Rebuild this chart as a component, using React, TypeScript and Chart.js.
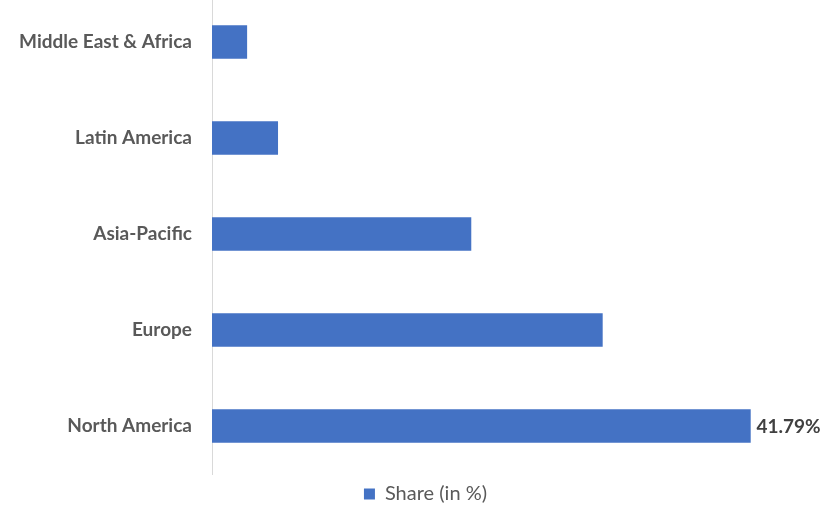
import { useEffect, useRef } from "react";
import { Chart, registerables } from "chart.js";
Chart.register(...registerables);

const categories = ["Middle East & Africa", "Latin America", "Asia-Pacific", "Europe", "North America"];
const shareValues = [2.7, 5.1, 20.1, 30.3, 41.79];
const valueLabels = ["", "", "", "", "41.79%"];
const seriesName = "Share (in %)";

const FONT = "Lato, 'Open Sans', sans-serif";

const valueLabelPlugin = {
  id: "valueLabels",
  afterDatasetsDraw(chart: any) {
    const ctx = chart.ctx;
    const meta = chart.getDatasetMeta(0);
    ctx.save();
    ctx.font = `bold 19px ${FONT}`;
    ctx.fillStyle = "#404040";
    ctx.textAlign = "left";
    ctx.textBaseline = "middle";
    meta.data.forEach((bar: any, i: number) => {
      const t = valueLabels[i];
      if (t) ctx.fillText(t, bar.x + 6, bar.y + 1);
    });
    ctx.restore();
  },
};

export default function App() {
  const ref = useRef<HTMLCanvasElement | null>(null);
  useEffect(() => {
    if (!ref.current) return;
    const chart = new Chart(ref.current, {
      type: "bar",
      data: {
        labels: categories,
        datasets: [
          {
            label: seriesName,
            data: shareValues,
            backgroundColor: "#4472C4",
            borderWidth: 0,
            barThickness: 33,
          },
        ],
      },
      options: {
        indexAxis: "y",
        animation: false,
        responsive: true,
        maintainAspectRatio: false,
        layout: { padding: { left: 0, right: 0, top: 0, bottom: 0 } },
        scales: {
          x: { display: false, min: 0, max: 49.6 },
          y: {
            afterFit(scale: any) {
              scale.width = 212;
              scale.paddingTop = 0;
              scale.paddingBottom = 0;
            },
            grid: { display: false, drawTicks: false },
            border: { display: true, color: "#d9d9d9", width: 1 },
            ticks: {
              padding: 20,
              color: "#595959",
              font: { family: FONT, size: 19, weight: "bold" },
            },
          },
        },
        plugins: {
          legend: {
            position: "bottom",
            labels: {
              boxWidth: 11,
              boxHeight: 11,
              color: "#595959",
              padding: 10,
              font: { family: FONT, size: 20 },
            },
          },
          tooltip: { enabled: false },
        },
      },
      plugins: [valueLabelPlugin],
    });
    return () => chart.destroy();
  }, []);
  return (
    <div style={{ position: "absolute", left: 0, top: 0, width: 828, height: 506, overflow: "hidden", background: "#fff" }}>
      <div style={{ position: "absolute", left: 0, top: -6, width: 851, height: 520 }}>
        <canvas ref={ref} />
      </div>
    </div>
  );
}
